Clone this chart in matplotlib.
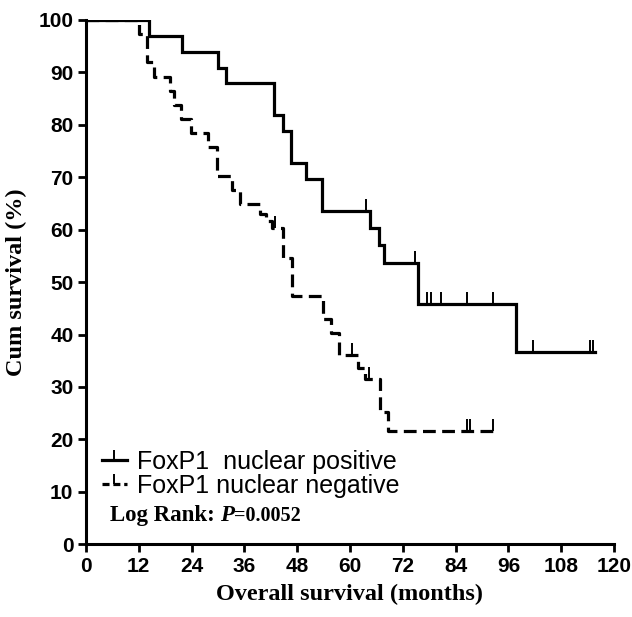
import numpy as np
import matplotlib
matplotlib.use("Agg")
import matplotlib.pyplot as plt
from matplotlib.lines import Line2D

# FoxP1 nuclear positive (solid)
pos_times = [14.3, 21.9, 30.0, 31.8, 42.7, 44.8, 46.7, 49.9, 53.6, 64.5, 66.7, 67.7, 75.5, 97.7]
pos_surv = [97.0, 93.9, 90.9, 87.9, 81.8, 78.8, 72.7, 69.7, 63.6, 60.3, 57.0, 53.6, 45.9, 36.7]
pos_end = 115.7
pos_censor = [63.6, 74.7, 77.6, 78.5, 80.7, 86.7, 92.6, 101.5, 114.5, 115.3]

# FoxP1 nuclear negative (dashed)
neg_times = [12.0, 13.9, 15.5, 19.0, 20.0, 21.7, 23.8, 27.7, 29.8, 33.1, 35.0, 39.5, 41.0,
             42.2, 44.8, 46.9, 53.8, 55.6, 57.5, 61.8, 63.5, 66.8, 68.7]
neg_surv = [97.3, 91.9, 89.2, 86.5, 83.8, 81.1, 78.4, 75.7, 70.3, 67.6, 64.9, 62.9, 61.6,
            60.3, 54.6, 47.3, 43.0, 40.3, 36.0, 33.7, 31.5, 25.2, 21.6]
neg_end = 93.0
neg_censor = [43.0, 60.5, 64.4, 86.5, 87.3, 92.6]

x_ticks = list(range(0, 121, 12))
y_ticks = list(range(0, 101, 10))
labels = ["FoxP1  nuclear positive", "FoxP1 nuclear negative"]


def km_steps(times, surv, end):
    t = np.array([0.0] + times + [end])
    s = np.array([100.0] + surv + [surv[-1]])
    return t, s


def level_at(times, surv, c):
    s = 100.0
    for t, v in zip(times, surv):
        if t <= c:
            s = v
    return s


fig = plt.figure(figsize=(6.32, 6.17), dpi=100)
ax = fig.add_axes([0.136, 0.118, 0.8355, 0.8496])

tick_mark = [(0, 0), (0, 1)]
lw = 2.3
dash = (0, (4.0, 2.0))

t, s = km_steps(pos_times, pos_surv, pos_end)
ax.step(t, s, where="post", color="black", lw=lw, solid_joinstyle="miter")
ax.plot(pos_censor, [level_at(pos_times, pos_surv, c) for c in pos_censor], ls="none",
        marker=tick_mark, ms=18, mew=1.4, color="black")

t, s = km_steps(neg_times, neg_surv, neg_end)
ax.step(t, s, where="post", color="black", lw=lw, linestyle=dash)
ax.plot(neg_censor, [level_at(neg_times, neg_surv, c) for c in neg_censor], ls="none",
        marker=tick_mark, ms=18, mew=1.4, color="black")

ax.set_xlim(0, 120)
ax.set_ylim(0, 100)
ax.set_xticks(x_ticks)
ax.set_yticks(y_ticks)
for sp in ["top", "right"]:
    ax.spines[sp].set_visible(False)
for sp in ["left", "bottom"]:
    ax.spines[sp].set_linewidth(2.2)
ax.tick_params(direction="out", length=6, width=2, pad=3)
for lab in ax.get_xticklabels() + ax.get_yticklabels():
    lab.set_family(["Liberation Sans Narrow", "Liberation Sans"])
    lab.set_fontweight("bold")
    lab.set_fontsize(15)

ax.set_xlabel("Overall survival (months)", family="Liberation Serif", fontweight="bold",
              fontsize=17.5, labelpad=6)
ax.set_ylabel("Cum survival (%)", family="Liberation Serif", fontweight="bold",
              fontsize=17.5, labelpad=8)

h_pos = (Line2D([], [], color="black", lw=lw),
         Line2D([], [], ls="none", marker=tick_mark, ms=14, mew=1.4, color="black"))
h_neg = (Line2D([], [], color="black", lw=lw, linestyle=(0, (2.2, 1.2))),
         Line2D([], [], ls="none", marker=tick_mark, ms=14, mew=1.4, color="black"))
ax.legend([h_pos, h_neg], labels, loc="lower left", bbox_to_anchor=(0.03, 0.088),
          frameon=False, handlelength=1.0, handletextpad=0.4, labelspacing=0.0,
          borderpad=0, borderaxespad=0,
          prop={"family": "Liberation Sans", "size": 18})

# Log Rank text with italic P
fig.canvas.draw()
r = fig.canvas.get_renderer()
x0, y0 = 0.045, 0.044
parts = [("Log Rank: ", "normal", 16.5), ("P", "italic", 16.5), ("=0.0052", "normal", 14.5)]
x = x0
for txt, style, size in parts:
    tt = ax.text(x, y0, txt, transform=ax.transAxes, family="Liberation Serif",
                 fontweight="bold", style=style, fontsize=size, va="baseline")
    bb = tt.get_window_extent(renderer=r)
    x = ax.transAxes.inverted().transform((bb.x1, bb.y0))[0]

fig.savefig("out.png", dpi=100)
